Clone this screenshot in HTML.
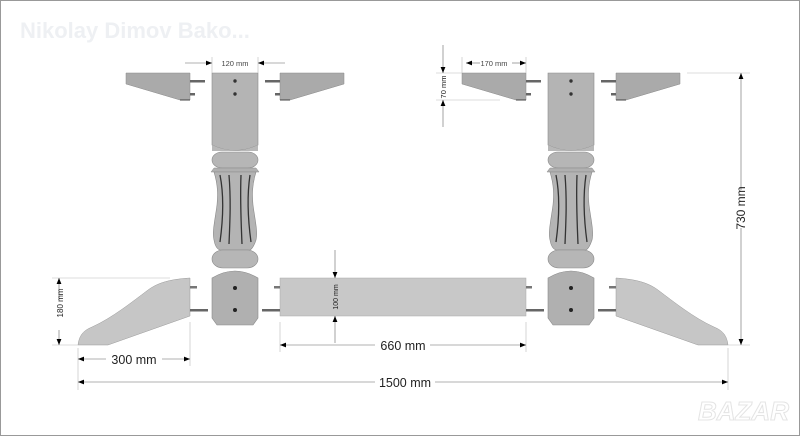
<!DOCTYPE html>
<html><head><meta charset="utf-8"><style>
html,body{margin:0;padding:0;background:#fff}
svg{display:block}
text{font-family:"Liberation Sans",sans-serif}
</style></head><body>
<svg width="800" height="436" viewBox="0 0 800 436" xmlns="http://www.w3.org/2000/svg">
<defs>
<marker id="ar" viewBox="0 0 10 10" refX="10" refY="5" markerWidth="10" markerHeight="6" orient="auto-start-reverse" markerUnits="userSpaceOnUse"><path d="M0,1 L10,5 L0,9 Z" fill="#000"/></marker>
<g id="col">
  <path d="M212,73 H258 V145 Q235,156 212,145 Z" fill="#b4b4b4" stroke="#8a8a8a" stroke-width="0.6"/>
  <path d="M212,145 Q235,156 258,145 V151 H212 Z" fill="#b8b8b8"/>
  <circle cx="235" cy="81" r="1.7" fill="#333"/>
  <circle cx="235" cy="94" r="1.7" fill="#333"/>
  <rect x="212" y="152" width="46" height="16" rx="10" fill="#b6b6b6" stroke="#8a8a8a" stroke-width="0.6"/>
  <path d="M214,168 H256 L259,172 H211 Z" fill="#b0b0b0" stroke="#8a8a8a" stroke-width="0.5"/>
  <path d="M214,172 H256 C252,185 252,195 253,205 C255,220 258,232 256,240 C254,246 252,249 250,250 H220 C217,249 215,246 214,240 C212,232 215,220 217,205 C218,195 218,185 214,172 Z" fill="#b4b4b4" stroke="#8a8a8a" stroke-width="0.6"/>
  <path d="M220,175 C224,195 223,220 220,242" stroke="#333" stroke-width="1.3" fill="none"/>
  <path d="M229,175 C231,200 230,220 229,244" stroke="#333" stroke-width="1.3" fill="none"/>
  <path d="M241,175 C240,200 241,220 242,244" stroke="#333" stroke-width="1.3" fill="none"/>
  <path d="M250,175 C247,195 248,220 251,242" stroke="#333" stroke-width="1.3" fill="none"/>
  <rect x="212" y="250" width="46" height="18" rx="11" fill="#b6b6b6" stroke="#8a8a8a" stroke-width="0.6"/>
  <path d="M212,278 Q235,264 258,278 V318 L253,325 H217 L212,318 Z" fill="#b0b0b0" stroke="#8a8a8a" stroke-width="0.6"/>
  <circle cx="235" cy="288" r="2" fill="#222"/>
  <circle cx="235" cy="310" r="2" fill="#222"/>
</g>
<g id="armL">
  <path d="M126,73 H190 V100 H180 L126,84 Z" fill="#aaaaaa" stroke="#888" stroke-width="0.5"/>
  <line x1="180" y1="100" x2="190" y2="100" stroke="#444" stroke-width="1"/>
  <rect x="190" y="80" width="15" height="2.5" fill="#666"/>
  <rect x="190" y="93" width="5" height="2.5" fill="#666"/>
</g>
<g id="footL">
  <path d="M190,278 L190,316 L108,345 L78,345 C79,337 82,331 92,327 C112,318 132,302 148,290 C160,281 175,279 190,278 Z" fill="#c6c6c6" stroke="#999" stroke-width="0.5"/>
  <rect x="190" y="286" width="7" height="2.5" fill="#777"/>
  <rect x="190" y="309" width="18" height="2.5" fill="#666"/>
</g>
</defs>
<rect x="0.5" y="0.5" width="799" height="435" fill="#fff" stroke="#999" stroke-width="1"/>
<text x="20" y="38" font-size="22" font-weight="bold" fill="#eef0f3">Nikolay Dimov Bako...</text>

<use href="#col"/>
<use href="#armL"/>
<use href="#armL" transform="translate(470,0) scale(-1,1)"/>
<use href="#footL"/>
<use href="#col" transform="translate(336,0)"/>
<use href="#armL" transform="translate(336,0)"/>
<use href="#armL" transform="translate(806,0) scale(-1,1)"/>
<use href="#footL" transform="translate(806,0) scale(-1,1)"/>

<rect x="280" y="278" width="246" height="38" fill="#c8c8c8" stroke="#aaa" stroke-width="0.5"/>
<rect x="274" y="286" width="6" height="2.5" fill="#777"/>
<rect x="262" y="309" width="18" height="2.5" fill="#666"/>
<rect x="526" y="286" width="6" height="2.5" fill="#777"/>
<rect x="526" y="309" width="18" height="2.5" fill="#666"/>

<g stroke="#bbb" stroke-width="0.6" fill="none">
  <line x1="212" y1="57" x2="212" y2="73"/><line x1="258" y1="57" x2="258" y2="73"/>
  <line x1="462" y1="57" x2="462" y2="73"/><line x1="526" y1="57" x2="526" y2="73"/>
  <line x1="436" y1="73" x2="462" y2="73"/><line x1="436" y1="100" x2="500" y2="100"/>
  <line x1="687" y1="73" x2="750" y2="73"/><line x1="728" y1="345" x2="750" y2="345"/>
  <line x1="52" y1="278" x2="170" y2="278"/><line x1="52" y1="345" x2="78" y2="345"/>
  <line x1="78" y1="348" x2="78" y2="390"/><line x1="190" y1="322" x2="190" y2="366"/>
  <line x1="280" y1="322" x2="280" y2="352"/><line x1="526" y1="322" x2="526" y2="352"/>
  <line x1="728" y1="348" x2="728" y2="390"/>
</g>
<g stroke="#666" stroke-width="0.6" fill="none">
  <line x1="185" y1="63" x2="212" y2="63" marker-end="url(#ar)"/>
  <line x1="285" y1="63" x2="258" y2="63" marker-end="url(#ar)"/>
  <line x1="466" y1="63" x2="480" y2="63" marker-start="url(#ar)"/>
  <line x1="512" y1="63" x2="526" y2="63" marker-end="url(#ar)"/>
  <line x1="443" y1="45" x2="443" y2="73" marker-end="url(#ar)"/>
  <line x1="443" y1="127" x2="443" y2="100" marker-end="url(#ar)"/>
  <line x1="741" y1="73" x2="741" y2="190" marker-start="url(#ar)"/>
  <line x1="741" y1="228" x2="741" y2="345" marker-end="url(#ar)"/>
  <line x1="59" y1="278" x2="59" y2="300" marker-start="url(#ar)"/>
  <line x1="59" y1="330" x2="59" y2="345" marker-end="url(#ar)"/>
  <line x1="78" y1="359" x2="106" y2="359" marker-start="url(#ar)"/>
  <line x1="162" y1="359" x2="190" y2="359" marker-end="url(#ar)"/>
  <line x1="280" y1="345" x2="375" y2="345" marker-start="url(#ar)"/>
  <line x1="430" y1="345" x2="526" y2="345" marker-end="url(#ar)"/>
  <line x1="78" y1="382" x2="375" y2="382" marker-start="url(#ar)"/>
  <line x1="435" y1="382" x2="728" y2="382" marker-end="url(#ar)"/>
  <line x1="335" y1="250" x2="335" y2="278" marker-end="url(#ar)"/>
  <line x1="335" y1="343" x2="335" y2="316" marker-end="url(#ar)"/>
</g>
<g fill="#222">
  <text x="235" y="66" font-size="7.5" text-anchor="middle" fill="#444">120 mm</text>
  <text x="494" y="66" font-size="7.5" text-anchor="middle" fill="#444">170 mm</text>
  <text transform="translate(446,87) rotate(-90)" font-size="7.5" text-anchor="middle">70 mm</text>
  <text transform="translate(745,208) rotate(-90)" font-size="12" text-anchor="middle">730 mm</text>
  <text transform="translate(63,303) rotate(-90)" font-size="8" text-anchor="middle">180 mm</text>
  <text transform="translate(338,297) rotate(-90)" font-size="7" text-anchor="middle">100 mm</text>
  <text x="134" y="364" font-size="12.5" text-anchor="middle">300 mm</text>
  <text x="403" y="350" font-size="12.5" text-anchor="middle">660 mm</text>
  <text x="405" y="387" font-size="12.5" text-anchor="middle">1500 mm</text>
</g>
<text x="789" y="420" font-size="26" font-weight="bold" font-style="italic" text-anchor="end" fill="#fff" stroke="#e4e4e4" stroke-width="1">BAZAR</text>
</svg>
</body></html>
